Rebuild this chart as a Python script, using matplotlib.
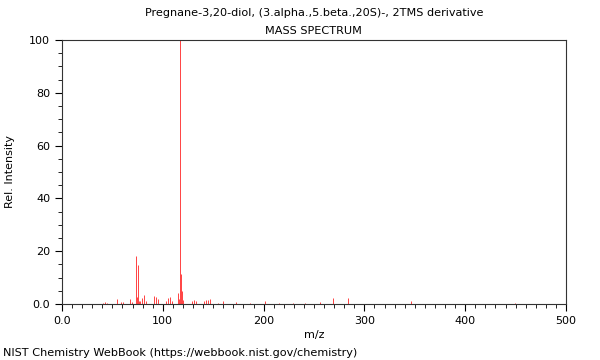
import matplotlib
matplotlib.use("Agg")
import matplotlib.pyplot as plt
from matplotlib.ticker import MultipleLocator

# peaks (m/z, relative intensity)
mz = [41, 43, 45, 55, 59, 61, 67, 69, 73, 74, 75, 76, 77, 79, 81, 83,
      91, 93, 95, 103, 105, 107, 109, 115, 116, 117, 118, 119, 120,
      129, 131, 133, 141, 143, 145, 147, 155, 160, 173, 187, 201, 215,
      229, 241, 256, 269, 284, 346, 449]
intensity = [0.5, 0.6, 0.5, 1.8, 0.8, 0.8, 2.0, 0.7, 18.3, 2.5, 14.8, 1.2, 1.0, 2.4, 3.4, 1.0,
             3.2, 2.6, 1.8, 1.0, 2.2, 2.6, 1.3, 4.0, 2.0, 100.0, 11.5, 5.0, 1.5,
             1.0, 1.5, 1.0, 1.0, 1.5, 1.6, 2.0, 0.5, 1.0, 0.8, 0.5, 1.0, 0.5,
             0.4, 0.5, 0.7, 2.1, 2.2, 1.2, 0.4]

title = "Pregnane-3,20-diol, (3.alpha.,5.beta.,20S)-, 2TMS derivative"
subtitle = "MASS SPECTRUM"
footer = "NIST Chemistry WebBook (https://webbook.nist.gov/chemistry)"

fig = plt.figure(figsize=(6, 3.6), dpi=100)
ax = fig.add_axes([0.1033, 0.1556, 0.84, 0.7333])

ax.vlines(mz, 0, intensity, colors="#ff2020", linewidth=0.7, alpha=0.85)

ax.set_xlim(0, 500)
ax.set_ylim(0, 100)
ax.xaxis.set_minor_locator(MultipleLocator(10))
ax.yaxis.set_minor_locator(MultipleLocator(5))
ax.tick_params(which="major", length=5, width=0.8, labelsize=8, direction="out")
ax.tick_params(which="minor", length=3, width=0.6, direction="out")

ax.set_xticks(range(0, 501, 100))
ax.set_xticklabels(["0.0"] + [str(v) for v in range(100, 501, 100)])
ax.set_yticks(range(0, 101, 20))
ax.set_yticklabels(["0.0"] + [str(v) for v in range(20, 101, 20)])

for sp in ax.spines.values():
    sp.set_linewidth(0.8)
    sp.set_color("#333333")

ax.set_xlabel("m/z", fontsize=8, labelpad=3)
ax.set_ylabel("Rel. Intensity", fontsize=8, labelpad=10)

fig.text(0.523, 0.963, title, ha="center", va="center", fontsize=8.1)
fig.text(0.523, 0.915, subtitle, ha="center", va="center", fontsize=8.1)
fig.text(0.005, 0.019, footer, ha="left", va="center", fontsize=8.1)

fig.savefig("out.png", dpi=100)
